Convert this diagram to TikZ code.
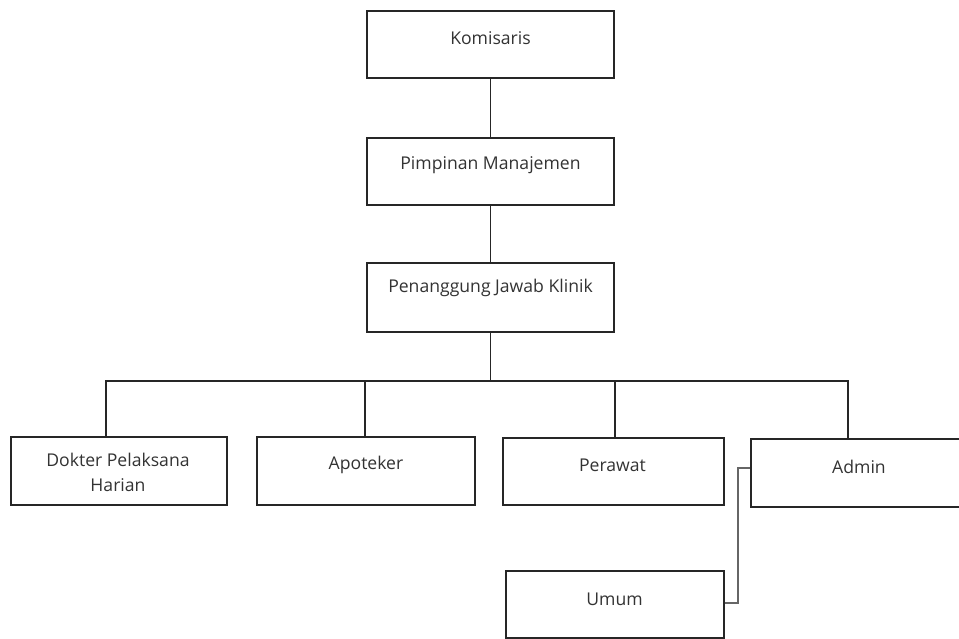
\documentclass[tikz,border=0pt]{standalone}
\usepackage{fontspec}
\setmainfont{Open Sans}
\begin{document}
\begin{tikzpicture}[x=1pt,y=-1pt,
  box/.style={draw=black!85,line width=1.4pt,fill=white,rectangle,inner sep=0pt},
  lbl/.style={text=black!80,font=\fontsize{17.6}{24.5}\selectfont,align=center,inner sep=0pt},
  conn/.style={draw=black!85,line width=1.4pt},
  connb/.style={draw=black!60,line width=1.4pt}]
\useasboundingbox (0,0) rectangle (959,639);
\clip (0,0) rectangle (959,639);
\fill[white] (0,0) rectangle (959,639);
% top chain
\node[box,minimum width=247pt,minimum height=67pt] (kom) at (490.5,44.5) {};
\node[lbl] (komt) at (490.5,38) {Komisaris};
\node[box,minimum width=247pt,minimum height=67pt] (pim) at (490.5,171.5) {};
\node[lbl] (pimt) at (490.5,165) {Pimpinan Manajemen};
\node[box,minimum width=247pt,minimum height=69pt] (pen) at (490.5,297.5) {};
\node[lbl] (pent) at (490.5,288) {Penanggung Jawab Klinik};
% lower boxes
\node[box,minimum width=216pt,minimum height=68pt] (dok) at (119,471) {};
\node[lbl] (dokt) at (118,472.5) {Dokter Pelaksana\\Harian};
\node[box,minimum width=218pt,minimum height=68pt] (apo) at (366,471) {};
\node[lbl] (apot) at (366,465) {Apoteker};
\node[box,minimum width=221pt,minimum height=67pt] (per) at (613.5,471.5) {};
\node[lbl] (pert) at (612.5,465) {Perawat};
\node[box,minimum width=216pt,minimum height=68pt] (adm) at (859,473) {};
\node[lbl] (admt) at (859,467) {Admin};
\node[box,minimum width=218pt,minimum height=67pt] (umu) at (615,604.5) {};
\node[lbl] (umut) at (614.5,599) {Umum};
% connectors
\coordinate (bus) at (490.5,381);
\draw[conn] (kom.south) -- (pim.north);
\draw[conn] (pim.south) -- (pen.north);
\draw[conn] (pen.south) -- (bus);
\draw[conn] (dok.north -| 106,0) |- (bus) -| (adm.north -| 848,0);
\draw[conn] (apo.north -| 365,0) -- (365,381);
\draw[conn] (per.north -| 615,0) -- (615,381);
\draw[connb] (umu.east |- 0,603) -| (738,468) -- (adm.west |- 0,468);
\end{tikzpicture}
\end{document}
